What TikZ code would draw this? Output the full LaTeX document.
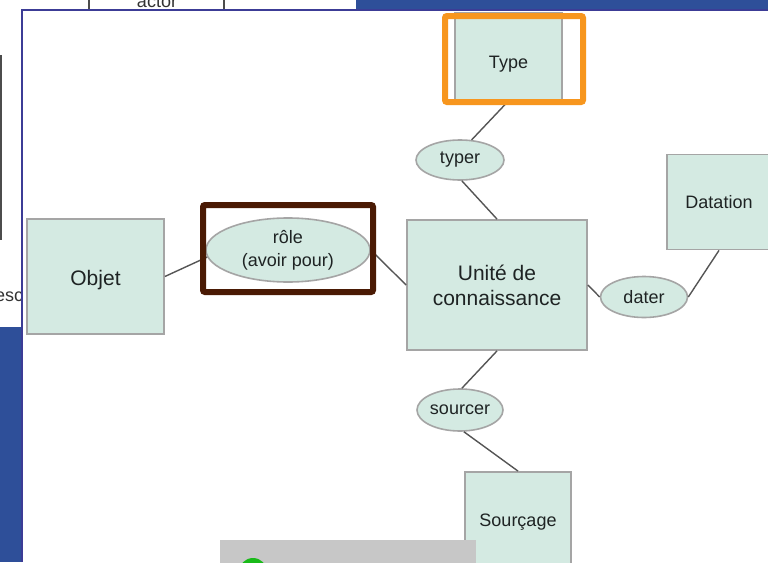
\documentclass[tikz,border=0pt]{standalone}
\usepackage{fontspec}
\setmainfont{Liberation Sans}
\usetikzlibrary{shapes.geometric}
\definecolor{mint}{RGB}{212,234,226}
\definecolor{edgegrey}{RGB}{165,165,165}
\definecolor{linegrey}{RGB}{85,85,85}
\definecolor{slideblue}{RGB}{46,79,153}
\definecolor{panelborder}{RGB}{60,60,150}
\definecolor{frameorange}{RGB}{247,150,30}
\definecolor{framebrown}{RGB}{74,26,4}
\definecolor{textdark}{RGB}{30,35,35}
\tikzset{
  entity/.style={rectangle, draw=edgegrey, fill=mint, line width=1.8pt, inner sep=0pt, text=textdark, align=center},
  relation/.style={ellipse, draw=edgegrey, fill=mint, line width=1.6pt, inner sep=0pt, text=textdark, align=center},
  link/.style={draw=linegrey, line width=1.4pt},
  smalltext/.style={font=\fontsize{18}{23}\selectfont},
  bigtext/.style={font=\fontsize{21}{25}\selectfont},
  hilite/.style={line width=6pt, rounded corners=2pt}
}
\begin{document}
\begin{tikzpicture}[x=1pt,y=-1pt]
\useasboundingbox (0,0) rectangle (768,562);
% background slide remnants
\fill[white] (0,0) rectangle (768,562);
\fill[slideblue] (356,0) rectangle (768,10);
\fill[slideblue] (0,327) rectangle (22,562);
\draw[line width=1.5pt, black!70] (89,-2) -- (89,10);
\draw[line width=1.5pt, black!70] (224,-2) -- (224,10);
\node[font=\fontsize{18}{20}\selectfont, text=black!80, anchor=base] (actor) at (157,8) {actor};
\draw[line width=2pt, black!70] (1,55) -- (1,240);
\node[font=\fontsize{18}{20}\selectfont, text=black!80, anchor=west, inner sep=0pt] (esc) at (-5,297) {esc};
% main panel
\fill[white] (22,10) rectangle (768,562);
\draw[panelborder, line width=1.2pt] (22,562) -- (22,10) -- (768,10);
\begin{scope}
\clip (22,10) rectangle (768,562);
% entities
\node[entity, smalltext, minimum width=107pt, minimum height=87pt] (type) at (508.5,56.5) {\raisebox{-12pt}[0pt][0pt]{Type}};
\node[entity, bigtext, minimum width=180pt, minimum height=130pt] (unite) at (497,285) {Unité de\\connaissance};
\node[entity, smalltext, minimum width=104pt, minimum height=95pt] (datation) at (719,202) {Datation};
\node[entity, bigtext, minimum width=137pt, minimum height=115pt] (objet) at (95.5,276.5) {\raisebox{-9pt}[0pt][0pt]{Objet}};
\node[entity, smalltext, minimum width=106pt, minimum height=100pt] (sourcage) at (518,522) {Sourçage};
% relations
\node[relation, smalltext, minimum width=88pt, minimum height=40pt] (typer) at (460,160) {typer};
\node[relation, smalltext, minimum width=164pt, minimum height=64pt] (role) at (288,250) {rôle\\(avoir pour)};
\node[relation, smalltext, minimum width=87pt, minimum height=41pt] (dater) at (644,297) {dater};
\node[relation, smalltext, minimum width=86pt, minimum height=42pt] (sourcer) at (460,410) {sourcer};
% connectors
\draw[link] (type.south) -- (typer.60);
\draw[link] (typer.-85) -- (unite.north);
\draw[link] (objet.east) -- (role.185);
\draw[link] (role.east) -- (unite.west);
\draw[link] (unite.east) -- (dater.west);
\draw[link] (dater.east) -- (datation.south);
\draw[link] (unite.south) -- (sourcer.85);
\draw[link] (sourcer.-80) -- (sourcage.north);
% highlight frames
\draw[frameorange, hilite] (445,16) rectangle (583,102);
\draw[framebrown, hilite] (203,205) rectangle (373,292);
% grey bar and green dot at bottom
\fill[black!22] (220,540) rectangle (476,570);
\fill[green!70!black!90] (253,572) circle (14);
\end{scope}
\end{tikzpicture}
\end{document}
